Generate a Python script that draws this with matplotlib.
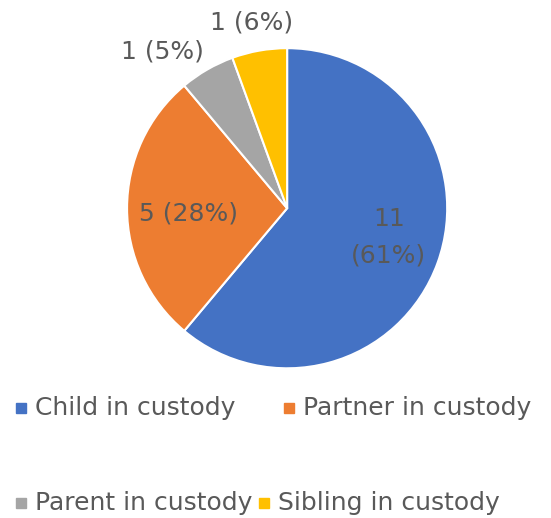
import numpy as np
import matplotlib.pyplot as plt

# data
categories = ["Child in custody", "Partner in custody", "Parent in custody", "Sibling in custody"]
counts = [11, 5, 1, 1]
pct_labels = ["61%", "28%", "5%", "6%"]
colors = ["#4472C4", "#ED7D31", "#A5A5A5", "#FFC000"]

txt_color = "#595959"
plt.rcParams["font.family"] = ["DejaVu Sans"]

fig = plt.figure(figsize=(5.51, 5.18), dpi=100)
ax = fig.add_axes([0.2306, 0.289, 0.581, 0.618])

wedges, _ = ax.pie(counts, colors=colors, startangle=90, counterclock=False,
                   wedgeprops=dict(edgecolor="white", linewidth=1.5), radius=1)
ax.set_xlim(-1, 1)
ax.set_ylim(-1, 1)
ax.set_aspect("equal")

# label placement (radius relative to pie, angle offset in degrees)
label_r = [0.66, 0.62, 1.25, 1.18]
label_shift = [4, 3, 8.5, 1]
label_text = [f"{counts[0]}\n({pct_labels[0]})"] + \
    [f"{c} ({p})" for c, p in zip(counts[1:], pct_labels[1:])]
for w, r, sh, t in zip(wedges, label_r, label_shift, label_text):
    mid = np.deg2rad((w.theta1 + w.theta2) / 2 + sh)
    ax.text(r * np.cos(mid), r * np.sin(mid), t, ha="center", va="center",
            fontsize=18, color=txt_color, linespacing=1.65, clip_on=False)

# legend, drawn by hand to get the two-row layout
leg_pos = [(21, 408), (289, 408), (21, 503), (264, 503)]
W, H = 551, 518
for (px, py), cat, col in zip(leg_pos, categories, colors):
    fig.patches.append(plt.Rectangle(((px - 5) / W, 1 - (py + 5) / H), 10 / W, 10 / H,
                                     transform=fig.transFigure, color=col))
    fig.text((px + 14) / W, 1 - py / H, cat, ha="left", va="center",
             fontsize=18, color=txt_color)

fig.savefig("out.png", dpi=100)
